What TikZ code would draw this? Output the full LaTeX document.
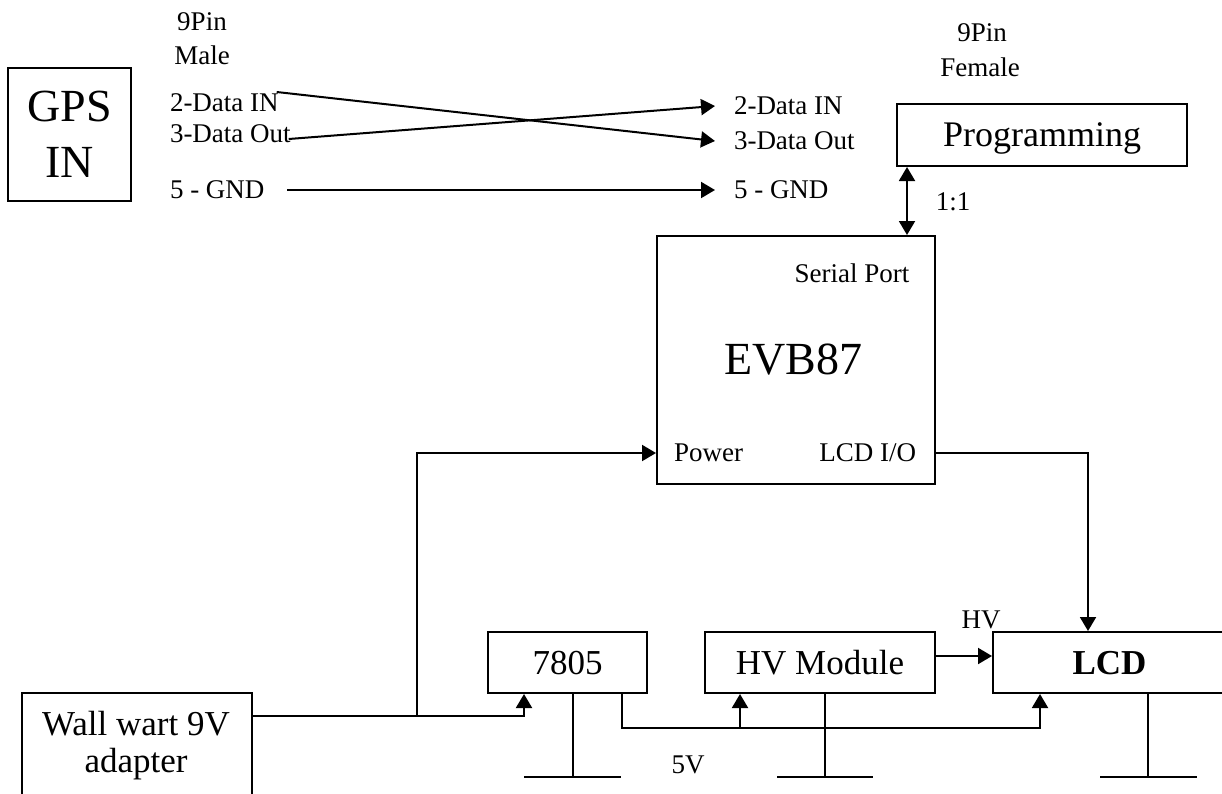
\documentclass[tikz,border=0pt]{standalone}
\usepackage{fontspec}
\setmainfont{Liberation Serif}
\usetikzlibrary{arrows.meta}
\begin{document}
\begin{tikzpicture}[x=1pt,y=-1pt,
  line width=2pt,
  box/.style={draw,rectangle,inner sep=0pt},
  lab/.style={inner sep=0pt,text depth=0pt,font=\fontsize{27}{30}\selectfont},
  rlab/.style={anchor=west,inner xsep=18pt,inner ysep=0pt,text depth=0pt,font=\fontsize{27}{30}\selectfont},
  big/.style={font=\fontsize{35}{37}\selectfont},
  arr/.style={-{Triangle[length=14pt,width=16pt]}},
  darr/.style={{Triangle[length=14pt,width=16pt]}-{Triangle[length=14pt,width=16pt]}},
]
\useasboundingbox (0,0) rectangle (1222,793);
\clip (0,0) rectangle (1222,793);

% GPS receiver and the male connector pins
\node[box,minimum width=123pt,minimum height=133pt,align=center,
      font=\fontsize{46}{56}\selectfont] (gps) at (69.5,134.5) {GPS\\IN};
\node[lab] (m9) at (202,22) {9Pin};
\node[lab] (male) at (202,55) {Male};
\node[lab,anchor=west] (l2) at (169,103) {2-Data IN};
\node[lab,anchor=west] (l3) at (169,134) {3-Data Out};
\node[lab,anchor=west] (l5) at (169,190) {5 - GND};

% female connector pins
\node[rlab] (r2) at (715,106) {2-Data IN};
\node[rlab] (r3) at (715,141) {3-Data Out};
\node[rlab] (r5) at (715,190) {5 - GND};
\node[lab] (f9) at (982,33) {9Pin};
\node[lab] (female) at (980,67) {Female};

% programming port and the board
\node[box,minimum width=290pt,minimum height=62pt,text depth=0pt,
      font=\fontsize{36}{40}\selectfont] (prog) at (1042,135) {Programming};
\node[lab] (ratio) at (953,202) {1:1};
\node[box,minimum width=278pt,minimum height=248pt] (evb) at (796,360) {};
\node[inner sep=0pt,font=\fontsize{46}{50}\selectfont] (evbname) at (793,360) {EVB87};
\node[lab] (serial) at (852,273) {Serial Port};
\node[lab,anchor=west] (pwr) at (673,453) {Power};
\node[lab,anchor=east] (lcdio) at (917,453) {LCD I/O};

% power supply, HV module and display
\node[box,big,text depth=0pt,minimum width=159pt,minimum height=61pt] (reg) at (567.5,662.5) {7805};
\node[box,big,text depth=0pt,minimum width=230pt,minimum height=61pt] (hv) at (820,662.5) {HV Module};
\node[box,text depth=0pt,minimum width=233pt,minimum height=61pt,
      font=\bfseries\fontsize{35}{37}\selectfont] (lcd) at (1109.5,662.5) {LCD};
\node[lab] (hvlab) at (981,620) {HV};
\node[box,minimum width=230pt,minimum height=110pt,anchor=north west] (wall) at (21,692) {};
\node[big,align=center,inner sep=0pt] (walltxt) at (136,746) {Wall wart 9V\\adapter};
\node[lab] (fivev) at (688,765) {5V};

% serial wiring
\draw[arr] ([xshift=-3pt,yshift=11pt]l2.east) -- (r3.west);
\draw[arr] ([xshift=-3pt,yshift=-5pt]l3.east) -- (r2.west);
\draw[arr,shorten <=22pt] (l5.east) -- (r5.west);
\draw[darr] ([xshift=11pt]prog.south west) -- ([xshift=11pt]prog.south west |- evb.north);

% supply wiring
\coordinate (jn) at (417,716);
\coordinate (bus) at (0,728);
\draw[arr] ([yshift=-24pt]wall.north east) -| ([xshift=37pt]reg.south west);
\draw[arr] (jn) |- (evb.west |- pwr.west);
\draw[arr] (evb.east |- lcdio.east) -| ([xshift=96pt]lcd.north west);
\draw[arr] ([yshift=6.5pt]hv.east) -- ([yshift=6.5pt]lcd.west);
\draw[arr] ([xshift=-26pt]reg.south east) |- ([xshift=48pt]lcd.south west |- bus)
           -- ([xshift=48pt]lcd.south west);
\draw[arr] ([xshift=36pt]hv.south west |- bus) -- ([xshift=36pt]hv.south west);

% ground symbols
\draw ([xshift=5.5pt]reg.south) -- ++(0,83) coordinate (g1);
\draw ([xshift=-49pt]g1) -- ([xshift=48pt]g1);
\draw ([xshift=5pt]hv.south) -- ++(0,83) coordinate (g2);
\draw ([xshift=-48pt]g2) -- ([xshift=48pt]g2);
\draw ([xshift=156pt]lcd.south west) -- ++(0,83) coordinate (g3);
\draw ([xshift=-48pt]g3) -- ([xshift=49pt]g3);
\end{tikzpicture}
\end{document}
